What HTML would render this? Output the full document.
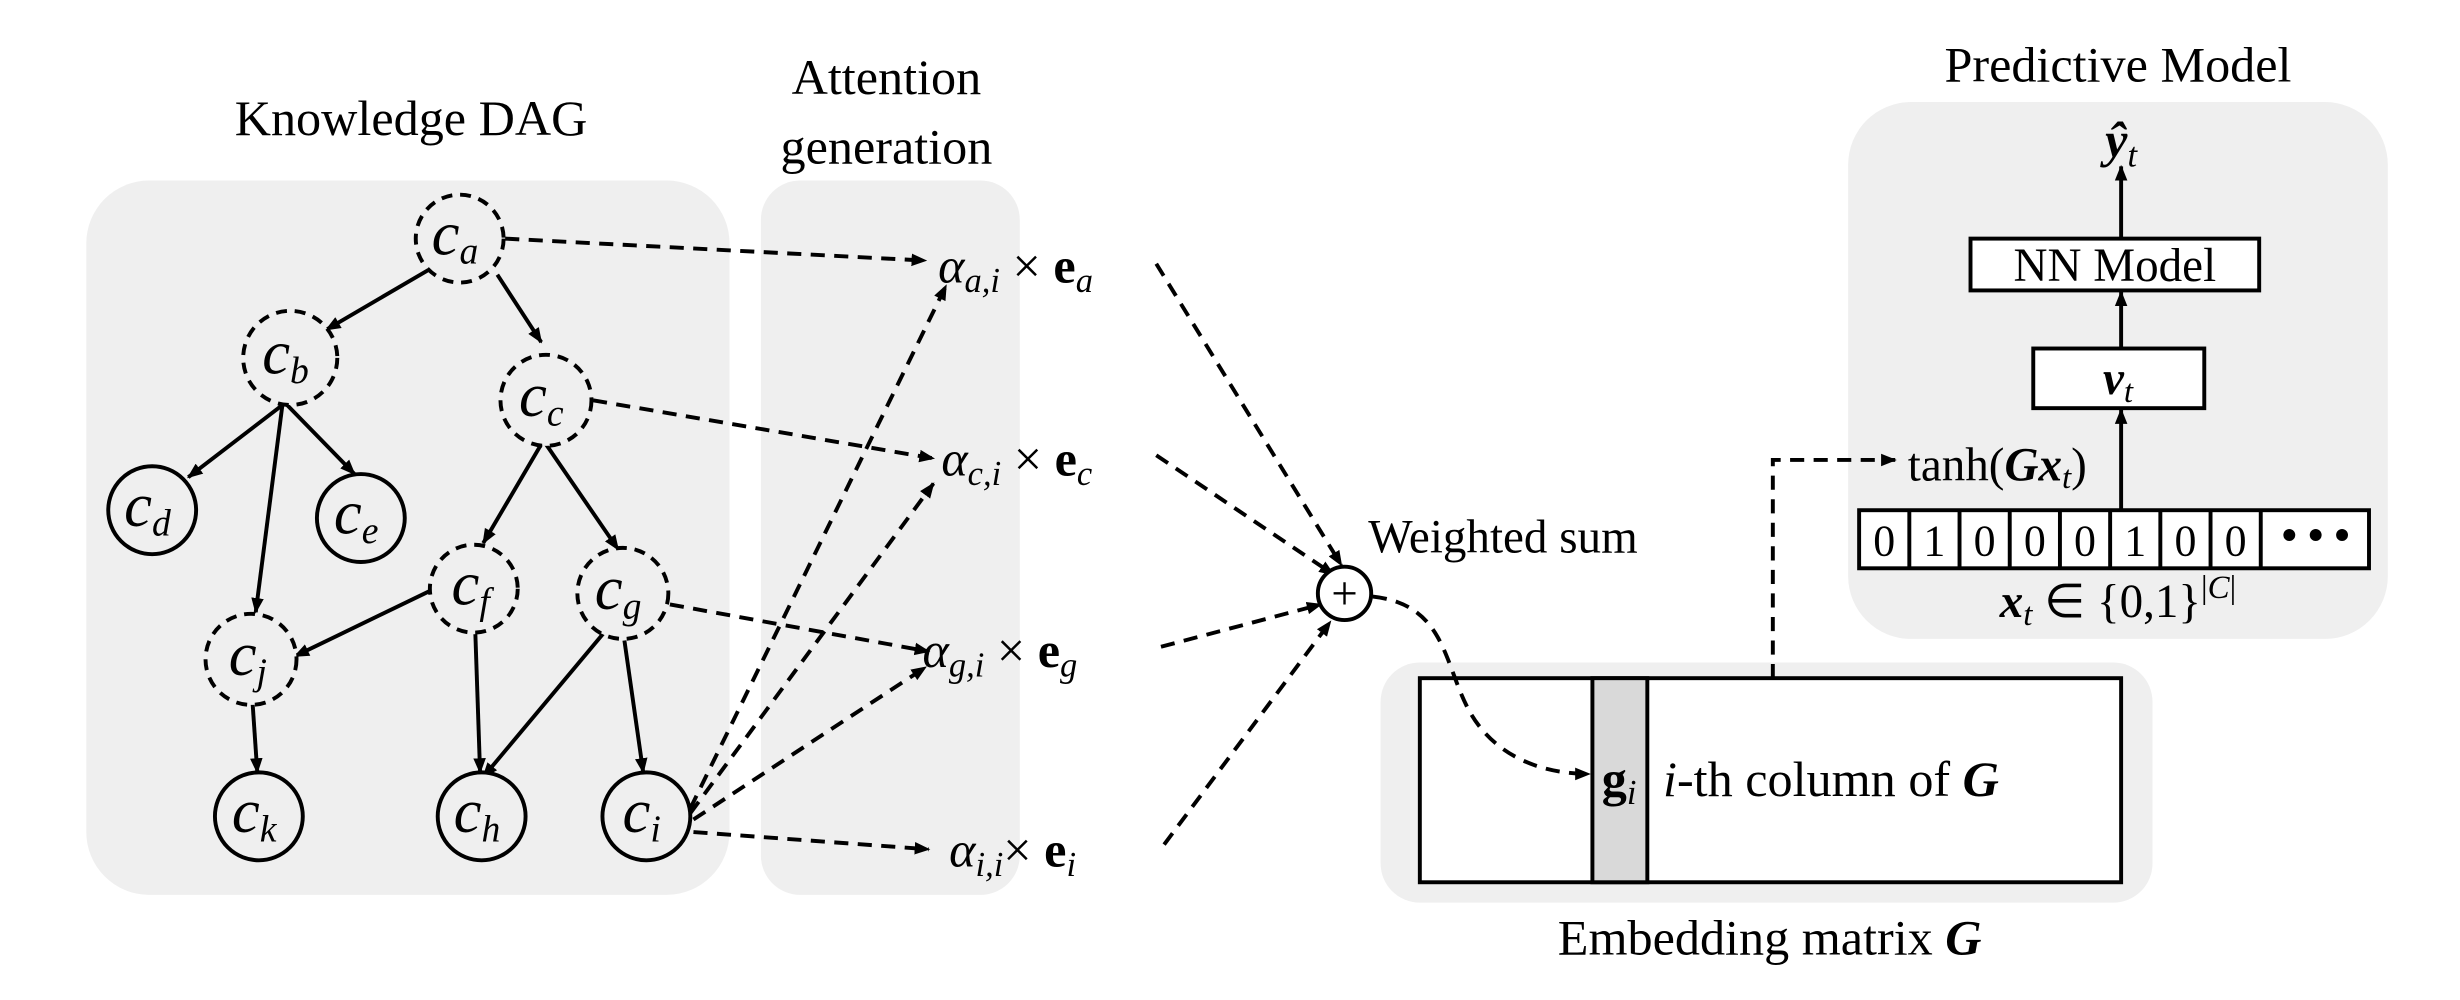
<!DOCTYPE html>
<html><head><meta charset="utf-8"><style>html,body{margin:0;padding:0;background:#fff}svg{display:block}text{font-family:"Liberation Serif",serif;fill:#000}</style></head><body>
<svg width="2460" height="1000" viewBox="0 0 1568 637" preserveAspectRatio="none" xmlns="http://www.w3.org/2000/svg">
<defs>
<marker id="ar" markerWidth="10" markerHeight="10" refX="9" refY="5" orient="auto" markerUnits="userSpaceOnUse"><path d="M0,1 L10,5 L0,9 z" fill="#000"/></marker>
</defs>
<rect x="55" y="115" width="410" height="455" rx="40" fill="#efefef"/>
<rect x="485" y="115" width="165" height="455" rx="25" fill="#efefef"/>
<rect x="880" y="422" width="492" height="153" rx="25" fill="#efefef"/>
<rect x="1178" y="65" width="344" height="342" rx="40" fill="#efefef"/>
<text x="262" y="86" font-size="32" text-anchor="middle">Knowledge DAG</text>
<text x="565" y="60" font-size="32" text-anchor="middle">Attention</text>
<text x="565" y="104" font-size="32" text-anchor="middle">generation</text>
<text x="1350" y="52" font-size="32" text-anchor="middle">Predictive Model</text>
<text x="1128" y="608" font-size="32" text-anchor="middle">Embedding matrix <tspan font-weight="bold" font-style="italic">G</tspan></text>
<g stroke="#000" stroke-width="2.5" fill="none" marker-end="url(#ar)">
<line x1="273" y1="172" x2="208" y2="210"/>
<line x1="317" y1="175" x2="345" y2="218"/>
<line x1="180" y1="258" x2="120" y2="304"/>
<line x1="183" y1="258" x2="226" y2="302"/>
<line x1="180" y1="258" x2="163" y2="390"/>
<line x1="345" y1="283" x2="308" y2="346"/>
<line x1="348" y1="283" x2="394" y2="350"/>
<line x1="277" y1="375" x2="188" y2="418"/>
<line x1="303" y1="404" x2="306" y2="492"/>
<line x1="385" y1="403" x2="308" y2="495"/>
<line x1="398" y1="408" x2="410" y2="492"/>
<line x1="161" y1="448" x2="164" y2="492"/>
</g>
<g stroke="#000" stroke-width="2.5" fill="#efefef">
<circle cx="293" cy="152" r="28" stroke-dasharray="7,5"/>
<circle cx="185" cy="228" r="30" stroke-dasharray="7,5"/>
<circle cx="348" cy="255" r="29" stroke-dasharray="7,5"/>
<circle cx="97" cy="325" r="28"/>
<circle cx="230" cy="330" r="28"/>
<circle cx="302" cy="375" r="28" stroke-dasharray="7,5"/>
<circle cx="397" cy="378" r="29" stroke-dasharray="7,5"/>
<circle cx="160" cy="420" r="29" stroke-dasharray="7,5"/>
<circle cx="165" cy="520" r="28"/>
<circle cx="307" cy="520" r="28"/>
<circle cx="412" cy="520" r="28"/>
</g>
<g font-size="40" font-style="italic" text-anchor="middle">
<text x="290" y="162">c<tspan font-size="24" dy="6">a</tspan></text>
<text x="182" y="238">c<tspan font-size="24" dy="6">b</tspan></text>
<text x="345" y="265">c<tspan font-size="24" dy="6">c</tspan></text>
<text x="94" y="335">c<tspan font-size="24" dy="6">d</tspan></text>
<text x="227" y="340">c<tspan font-size="24" dy="6">e</tspan></text>
<text x="300" y="385">c<tspan font-size="24" dy="6">f</tspan></text>
<text x="394" y="388">c<tspan font-size="24" dy="6">g</tspan></text>
<text x="158" y="430">c<tspan font-size="24" dy="6">j</tspan></text>
<text x="162" y="530">c<tspan font-size="24" dy="6">k</tspan></text>
<text x="304" y="530">c<tspan font-size="24" dy="6">h</tspan></text>
<text x="409" y="530">c<tspan font-size="24" dy="6">i</tspan></text>
</g>
<rect x="905" y="432" width="447" height="130" fill="#fff" stroke="#000" stroke-width="2.5"/>
<rect x="1015" y="432" width="35" height="130" fill="#d9d9d9" stroke="#000" stroke-width="2.5"/>
<g stroke="#000" stroke-width="2.5" fill="none" stroke-dasharray="9,6" marker-end="url(#ar)">
<line x1="322" y1="152" x2="590" y2="166"/>
<line x1="378" y1="255" x2="595" y2="292"/>
<line x1="427" y1="385" x2="592" y2="415"/>
<line x1="442" y1="530" x2="592" y2="541"/>
<line x1="440" y1="515" x2="603" y2="182"/>
<line x1="440" y1="518" x2="595" y2="308"/>
<line x1="442" y1="522" x2="590" y2="425"/>
<line x1="737" y1="168" x2="855" y2="360"/>
<line x1="737" y1="290" x2="850" y2="366"/>
<line x1="740" y1="412" x2="842" y2="385"/>
<line x1="742" y1="538" x2="848" y2="396"/>
<path d="M875,380 C920,385 920,420 935,450 C950,480 980,493 1013,493"/>
<path d="M1130,432 L1130,293 L1208,293"/>
</g>
<g font-size="32">
<text x="598" y="180"><tspan font-style="italic">α</tspan><tspan font-size="22" dy="6" font-style="italic">a,i</tspan><tspan dy="-6"> × </tspan><tspan font-weight="bold">e</tspan><tspan font-size="22" dy="6" font-style="italic">a</tspan></text>
<text x="600" y="303"><tspan font-style="italic">α</tspan><tspan font-size="22" dy="6" font-style="italic">c,i</tspan><tspan dy="-6"> × </tspan><tspan font-weight="bold">e</tspan><tspan font-size="22" dy="6" font-style="italic">c</tspan></text>
<text x="588" y="425"><tspan font-style="italic">α</tspan><tspan font-size="22" dy="6" font-style="italic">g,i</tspan><tspan dy="-6"> × </tspan><tspan font-weight="bold">e</tspan><tspan font-size="22" dy="6" font-style="italic">g</tspan></text>
<text x="605" y="552"><tspan font-style="italic">α</tspan><tspan font-size="22" dy="6" font-style="italic">i,i</tspan><tspan dy="-6">× </tspan><tspan font-weight="bold">e</tspan><tspan font-size="22" dy="6" font-style="italic">i</tspan></text>
</g>
<circle cx="857" cy="378" r="17" fill="#fff" stroke="#000" stroke-width="2.5"/>
<text x="857" y="388" font-size="30" text-anchor="middle">+</text>
<text x="958" y="352" font-size="30" text-anchor="middle">Weighted sum</text>
<text x="1032" y="507" font-size="32" text-anchor="middle"><tspan font-weight="bold">g</tspan><tspan font-size="22" dy="5" font-style="italic">i</tspan></text>
<text x="1060" y="507" font-size="32"><tspan font-style="italic">i</tspan>-th column of <tspan font-weight="bold" font-style="italic">G</tspan></text>
<g stroke="#000" stroke-width="2.5" fill="none" marker-end="url(#ar)">
<line x1="1352" y1="152" x2="1352" y2="106"/>
<line x1="1352" y1="222" x2="1352" y2="186"/>
<line x1="1352" y1="325" x2="1352" y2="261"/>
</g>
<text x="1352" y="100" font-size="32" text-anchor="middle" font-weight="bold" font-style="italic">ŷ<tspan font-size="22" dy="6" font-weight="normal">t</tspan></text>
<rect x="1256" y="152" width="184" height="33" fill="#fff" stroke="#000" stroke-width="2.5"/>
<text x="1348" y="179" font-size="30" text-anchor="middle">NN Model</text>
<rect x="1296" y="222" width="109" height="38" fill="#fff" stroke="#000" stroke-width="2.5"/>
<text x="1350" y="251" font-size="30" text-anchor="middle" font-weight="bold" font-style="italic">v<tspan font-size="21" dy="5" font-weight="normal">t</tspan></text>
<text x="1216" y="306" font-size="30">tanh(<tspan font-weight="bold" font-style="italic">Gx</tspan><tspan font-size="21" dy="5" font-style="italic">t</tspan><tspan dy="-5">)</tspan></text>
<rect x="1185" y="325" width="325" height="37" fill="#fff" stroke="#000" stroke-width="2.5"/>
<g stroke="#000" stroke-width="2.5">
<line x1="1217" y1="325" x2="1217" y2="362"/><line x1="1249" y1="325" x2="1249" y2="362"/>
<line x1="1281" y1="325" x2="1281" y2="362"/><line x1="1313" y1="325" x2="1313" y2="362"/>
<line x1="1345" y1="325" x2="1345" y2="362"/><line x1="1377" y1="325" x2="1377" y2="362"/>
<line x1="1409" y1="325" x2="1409" y2="362"/><line x1="1441" y1="325" x2="1441" y2="362"/>
</g>
<g font-size="28" text-anchor="middle">
<text x="1201" y="354">0</text><text x="1233" y="354">1</text><text x="1265" y="354">0</text><text x="1297" y="354">0</text><text x="1329" y="354">0</text><text x="1361" y="354">1</text><text x="1393" y="354">0</text><text x="1425" y="354">0</text>
<text x="1476" y="350" font-weight="bold">• • •</text>
</g>
<text x="1350" y="393" font-size="30" text-anchor="middle"><tspan font-weight="bold" font-style="italic">x</tspan><tspan font-size="21" dy="5" font-style="italic">t</tspan><tspan dy="-5"> ∈ {0,1}</tspan><tspan font-size="21" dy="-12">|<tspan font-style="italic">C</tspan>|</tspan></text>
</svg>
</body></html>
